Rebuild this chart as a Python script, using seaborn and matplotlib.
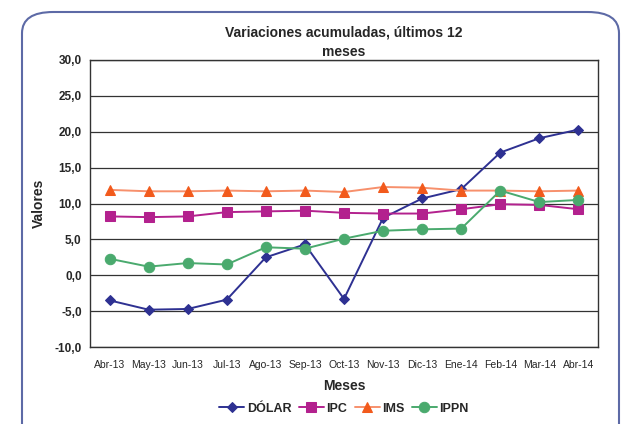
import seaborn as sns
import matplotlib.pyplot as plt
import pandas as pd
from matplotlib.patches import FancyBboxPatch
from matplotlib.ticker import FixedLocator, FuncFormatter

meses = ['Abr-13', 'May-13', 'Jun-13', 'Jul-13', 'Ago-13', 'Sep-13', 'Oct-13',
         'Nov-13', 'Dic-13', 'Ene-14', 'Feb-14', 'Mar-14', 'Abr-14']
dolar = [-3.5, -4.8, -4.7, -3.4, 2.5, 4.3, -3.3, 8.0, 10.7, 12.0, 17.1, 19.1, 20.3]
ipc = [8.2, 8.1, 8.2, 8.8, 8.9, 9.0, 8.7, 8.6, 8.6, 9.2, 9.9, 9.8, 9.2]
ims = [11.9, 11.7, 11.7, 11.8, 11.7, 11.8, 11.6, 12.3, 12.2, 11.8, 11.8, 11.7, 11.8]
ippn = [2.3, 1.2, 1.7, 1.5, 3.9, 3.7, 5.1, 6.2, 6.4, 6.5, 11.8, 10.2, 10.5]

series = [
    ('DÓLAR', dolar, '#2e3192', '#2e3192', 'D', 5.5),
    ('IPC', ipc, '#b3218e', '#b3218e', 's', 7),
    ('IMS', ims, '#f7906c', '#f25a1c', '^', 7.5),
    ('IPPN', ippn, '#4aaa6e', '#4aaa6e', 'o', 7.5),
]

sns.set_style('white')
plt.rcParams['font.family'] = ['Liberation Sans', 'DejaVu Sans']

fig = plt.figure(figsize=(6.25, 4.24), dpi=100)
W, H = 625, 424
ax = fig.add_axes([90 / W, 1 - 347 / H, 508 / W, 287 / H])

# rounded outer frame
frame = FancyBboxPatch((22 / W, -0.05), 597 / W, (424 - 12) / H + 0.05,
                       boxstyle='round,pad=0,rounding_size=0.05',
                       transform=fig.transFigure, fill=False,
                       edgecolor='#5d6aa6', linewidth=1.5, zorder=0)
fig.patches.append(frame)

for name, vals, lc, mc, mk, ms in series:
    df = pd.DataFrame({'mes': meses, 'valor': vals})
    sns.lineplot(data=df, x='mes', y='valor', ax=ax, color=lc, marker=mk,
                 markersize=ms, markerfacecolor=mc, markeredgecolor=mc,
                 linewidth=1.4, label=name, sort=False)

ax.set_xlim(-0.5, 12.5)
ax.set_ylim(-10, 30)
ax.set_yticks(range(-10, 31, 5))
ax.yaxis.set_major_formatter(FuncFormatter(lambda v, p: f'{v:.1f}'.replace('.', ',')))
ax.grid(axis='y', color='#333333', linewidth=0.9)
ax.set_axisbelow(True)
for s in ax.spines.values():
    s.set_color('#333333')
    s.set_linewidth(1.0)

ax.set_xticks(range(len(meses)))
ax.set_xticklabels(meses, fontsize=7.5)
ax.xaxis.set_minor_locator(FixedLocator([i - 0.5 for i in range(len(meses) + 1)]))
ax.tick_params(axis='x', which='major', length=0, pad=9)
ax.tick_params(axis='x', which='minor', length=4, color='#333333', direction='out')
ax.tick_params(axis='y', length=4, color='#333333', direction='out', labelsize=8.5, pad=2)
for lab in ax.get_yticklabels():
    lab.set_fontweight('bold')

ax.set_title('Variaciones acumuladas, últimos 12\nmeses', fontsize=10,
             fontweight='bold', pad=3, linespacing=1.5)
ax.set_xlabel('Meses', fontsize=10, fontweight='bold', labelpad=7)
ax.set_ylabel('Valores', fontsize=10, fontweight='bold', labelpad=6)

leg = ax.legend(loc='upper center', bbox_to_anchor=(0.5, -0.155), ncol=4,
                frameon=False, prop={'weight': 'bold', 'size': 9},
                handlelength=2.0, columnspacing=0.6, handletextpad=0.2)

fig.savefig('out.png', dpi=100)
